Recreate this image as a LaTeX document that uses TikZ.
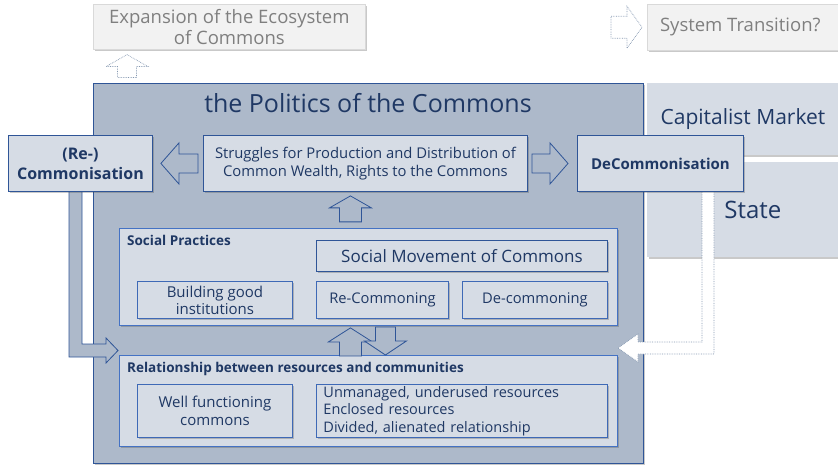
\documentclass[tikz,border=0pt]{standalone}
\usepackage{fontspec}
\setmainfont{Open Sans}
\usetikzlibrary{calc,shadows}

\definecolor{politicsfill}{HTML}{ADB9CA}
\definecolor{commonsfill}{HTML}{D6DCE5}
\definecolor{commonsline}{HTML}{2F5597}
\definecolor{practiceline}{HTML}{4472C4}
\definecolor{commonstext}{HTML}{1F3864}
\definecolor{outerfill}{HTML}{F2F2F2}
\definecolor{outerline}{HTML}{D9D9D9}
\definecolor{outertext}{HTML}{7F7F7F}
\definecolor{ghostline}{HTML}{8497B0}

\begin{document}
\begin{tikzpicture}[
  x=1pt,
  y=-1pt,
  line join=miter,
  shade/.style={drop shadow={shadow xshift=1.5pt,shadow yshift=-2pt,opacity=0.3,fill=black!70}},
  box/.style={draw=commonsline,fill=commonsfill,line width=0.9pt,inner sep=0pt,
    anchor=north west,align=center,text=commonstext,shade},
  subbox/.style={box,draw=practiceline!70!commonsline,font=\fontsize{14.5}{17.5}\selectfont},
  outerbox/.style={box,draw=outerline,fill=outerfill,text=outertext,line width=0.6pt},
  sidebox/.style={box,draw=none},
  label/.style={anchor=north west,inner sep=0pt,text=commonstext,font=\fontsize{13.5}{16}\selectfont\bfseries},
  blockarrow/.style={draw=commonsline,fill=politicsfill,line width=0.8pt},
  ghostarrow/.style={draw=ghostline,fill=white,densely dotted,line width=0.7pt}
]
  % Page frame.
  \useasboundingbox (0,0) rectangle (838,465);

  % Outside world: market, state and where the commons may lead.
  \node[sidebox,minimum width=191,minimum height=72,font=\fontsize{21}{25}\selectfont]
    (market) at (647,83) {Capitalist Market};
  \node[sidebox,minimum width=191,minimum height=95,font=\fontsize{24}{28}\selectfont]
    (state) at (647,162) {\hspace*{20pt}State};
  \node[outerbox,minimum width=272,minimum height=45,font=\fontsize{18.5}{21.5}\selectfont]
    (expansion) at (93,4) {Expansion of the Ecosystem\\of Commons};
  \node[outerbox,minimum width=200,minimum height=46,font=\fontsize{18.5}{21}\selectfont]
    (transition) at (647,4) {\hspace*{-14pt}System Transition?};

  % The political arena.
  \node[box,fill=politicsfill,line width=0.7pt,minimum width=550,minimum height=380]
    (politics) at (93,83) {};
  \node[text=commonstext,font=\fontsize{25}{29}\selectfont] (politicstitle) at (368,103)
    {the Politics of the Commons};

  % Social practices layer.
  \node[box,draw=practiceline,minimum width=498,minimum height=97] (practices) at (119,228) {};
  \node[label] (practiceslabel) at ($(practices.north west)+(8,7)$) {Social Practices};
  \node[subbox,draw=commonsline,minimum width=291,minimum height=31,font=\fontsize{17}{20}\selectfont]
    (movement) at (316,240) {Social Movement of Commons};
  \node[subbox,minimum width=155,minimum height=37,font=\fontsize{15}{17}\selectfont]
    (institutions) at (137,281) {Building good\\institutions};
  \node[subbox,minimum width=132,minimum height=37,font=\fontsize{14.7}{17}\selectfont]
    (recommoning) at (316,281) {Re-Commoning};
  \node[subbox,minimum width=145,minimum height=37,font=\fontsize{14.7}{17}\selectfont]
    (decommoning) at (462,281) {De-commoning};

  % Resources and communities layer.
  \node[box,draw=practiceline,minimum width=498,minimum height=91] (relation) at (119,355) {};
  \node[label] (relationlabel) at ($(relation.north west)+(8,7)$)
    {Relationship between resources and communities};
  \node[subbox,minimum width=155,minimum height=53,font=\fontsize{15}{18}\selectfont]
    (wellfunctioning) at (137,384) {Well functioning\\commons};
  \node[subbox,minimum width=291,minimum height=53,align=left,text width=277] (unmanaged) at (316,384)
    {Unmanaged, underused resources\\Enclosed resources\\Divided, alienated relationship};

  % Bent arrows from both outcomes back down to the resources.
  \coordinate (lbend) at (69,191);
  \draw[blockarrow] (lbend) -- ++(0,166) -- ++(37,0) -- ++(0,6) -- ++(12,-12.5)
    -- ++(-12,-12.5) -- ++(0,6) -- ++(-24,0) -- ++(0,-153) -- cycle;
  \coordinate (rbend) at (714,191);
  \draw[ghostarrow] (rbend) -- ++(0,163) -- ++(-76,0) -- ++(0,8) -- ++(-20,-14)
    -- ++(20,-14) -- ++(0,8) -- ++(64,0) -- ++(0,-151) -- cycle;

  % Struggles and the two outcomes.
  \node[box,minimum width=144,minimum height=56,font=\fontsize{16}{20}\selectfont\bfseries]
    (recom) at (8,135) {(Re-)\\Commonisation};
  \node[box,minimum width=324,minimum height=56,font=\fontsize{14.8}{17.5}\selectfont]
    (struggles) at (203,135) {Struggles for Production and Distribution of\\Common Wealth, Rights to the Commons};
  \node[box,minimum width=166,minimum height=56,font=\fontsize{15}{18}\selectfont\bfseries]
    (decom) at (577,135) {DeCommonisation};

  % Block arrows between the boxes.
  \coordinate (ltip) at ($(recom.east)+(8,0)$);
  \draw[blockarrow] (ltip) -- ++(18,-20.5) -- ++(0,11) -- ++(19,0) -- ++(0,19)
    -- ++(-19,0) -- ++(0,11) -- cycle;
  \coordinate (rtip) at ($(decom.west)+(-9,0)$);
  \draw[blockarrow] (rtip) -- ++(-18,-20.5) -- ++(0,11) -- ++(-18,0) -- ++(0,19)
    -- ++(18,0) -- ++(0,11) -- cycle;
  \coordinate (utip) at ($(struggles.south)+(-15,4)$);
  \draw[blockarrow] (utip) -- ++(21,12) -- ++(-10,0) -- ++(0,14) -- ++(-22,0)
    -- ++(0,-14) -- ++(-10,0) -- cycle;
  \coordinate (uptip) at ($(practices.south)+(-18,2)$);
  \draw[blockarrow] (uptip) -- ++(22,14) -- ++(-11,0) -- ++(0,14) -- ++(-22,0)
    -- ++(0,-14) -- ++(-11,0) -- cycle;
  \coordinate (downtip) at ($(relation.north)+(17,0)$);
  \draw[blockarrow] (downtip) -- ++(21,-14) -- ++(-11,0) -- ++(0,-14) -- ++(-20,0)
    -- ++(0,14) -- ++(-11,0) -- cycle;

  % Dotted arrows towards the wider transition.
  \coordinate (etip) at ($(expansion.south west)+(34,5)$);
  \draw[ghostarrow] (etip) -- ++(21,12) -- ++(-11.5,0) -- ++(0,11) -- ++(-19,0)
    -- ++(0,-11) -- ++(-11.5,0) -- cycle;
  \coordinate (ttip) at ($(transition.west)+(-5,0)$);
  \draw[ghostarrow] (ttip) -- ++(-15,-21) -- ++(0,10) -- ++(-16,0) -- ++(0,22)
    -- ++(16,0) -- ++(0,10) -- cycle;
\end{tikzpicture}
\end{document}
